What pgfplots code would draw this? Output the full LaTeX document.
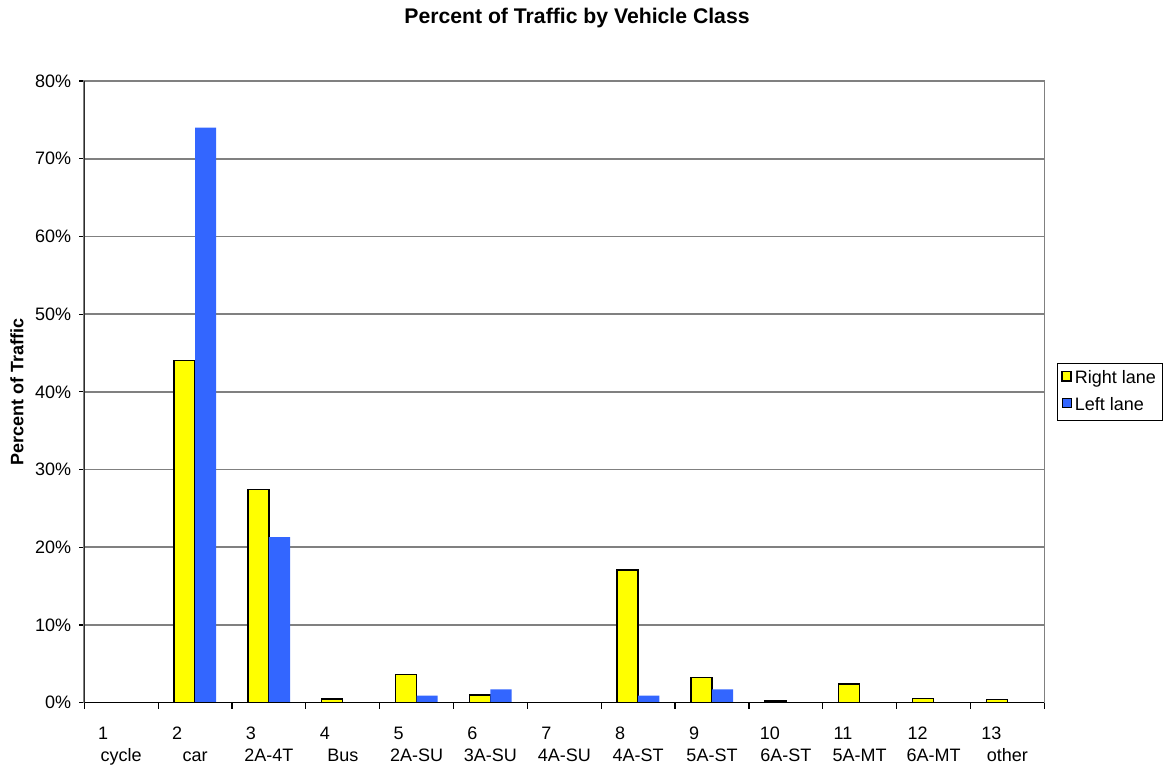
\documentclass[border=0pt]{standalone}
\usepackage{fontspec}
\setmainfont{Liberation Sans}
\usepackage{pgfplots}
\pgfplotsset{compat=1.18}
\usetikzlibrary{calc}

\definecolor{rightlane}{RGB}{255,255,0}
\definecolor{leftlane}{RGB}{51,102,255}
\definecolor{gridgray}{RGB}{128,128,128}

% two-line category label: number set to the left, name centred
\newcommand{\cl}[3][23pt]{\makebox[#1][l]{#2}\\#3}

\begin{document}
\begin{tikzpicture}
\begin{axis}[
    name=ax,
    scale only axis,
    width=480pt, height=310.8pt,
    xmin=0.5, xmax=13.5,
    ymin=0, ymax=80,
    ybar=0pt,
    bar width=0.2857,
    axis line style={draw=gridgray, line width=0.8pt},
    ymajorgrids,
    grid style={draw=gridgray, line width=0.8pt},
    tick align=outside,
    tick pos=left,
    major tick length=2.5pt,
    minor tick length=3pt,
    tick style={black, line width=0.6pt},
    xtick={1,...,13},
    minor xtick={0.5,1.5,...,13.5},
    major x tick style={draw=none},
    xticklabels={\cl{1}{cycle},\cl{2}{car},\cl{3}{2A-4T},\cl{4}{Bus},
        \cl{5}{2A-SU},\cl{6}{3A-SU},\cl{7}{4A-SU},\cl{8}{4A-ST},\cl{9}{5A-ST},
        \cl[26pt]{10}{6A-ST},\cl[26pt]{11}{5A-MT},\cl[26pt]{12}{6A-MT},\cl[26pt]{13}{other}},
    xticklabel style={align=center, anchor=north, yshift=-6pt,
        font=\fontsize{9}{11.25}\selectfont},
    ytick={0,10,...,80},
    yticklabels={0\%,10\%,20\%,30\%,40\%,50\%,60\%,70\%,80\%},
    yticklabel style={font=\fontsize{9}{10}\selectfont, xshift=-0.5pt},
    ylabel={Percent of Traffic},
    ylabel style={font=\fontsize{9}{10}\selectfont\bfseries,
        at={(axis description cs:-0.0701,0.5)}, anchor=center},
    legend style={at={(axis description cs:1.0132,0.5)}, anchor=west,
        draw=black, line width=0.5pt, font=\fontsize{9}{10}\selectfont,
        inner xsep=2pt, inner ysep=2pt, row sep=2.5pt,
        nodes={inner sep=1.5pt}},
    legend cell align=left,
    legend image code/.code={\draw[#1] (0pt,-1.3pt) rectangle (4.5pt,3.4pt);},
]
\addplot[fill=rightlane, draw=black, line width=0.7pt] coordinates {
    (2,44.0)(3,27.4)(4,0.45)(5,3.6)(6,1.0)(8,17.05)(9,3.2)
    (10,0.2)(11,2.4)(12,0.5)(13,0.4)
};
\addlegendentry{Right lane}
\addplot[fill=leftlane, draw=none] coordinates {
    (2,74.0)(3,21.3)(5,0.9)(6,1.7)(8,0.9)(9,1.7)
};
\addlegendentry{Left lane}
\draw[black, line width=0.8pt] (rel axis cs:0,1) -- (rel axis cs:0,0) -- (rel axis cs:1,0);
\end{axis}
\node[font=\fontsize{10.6}{12}\selectfont\bfseries] at ($(ax.south west)+(246.35pt,342.3pt)$)
    {Percent of Traffic by Vehicle Class};
\pgfresetboundingbox
\path[use as bounding box] ($(ax.south west)+(-42.15pt,-32.7pt)$) rectangle ($(ax.south west)+(540.35pt,351.3pt)$);
\end{tikzpicture}
\end{document}
